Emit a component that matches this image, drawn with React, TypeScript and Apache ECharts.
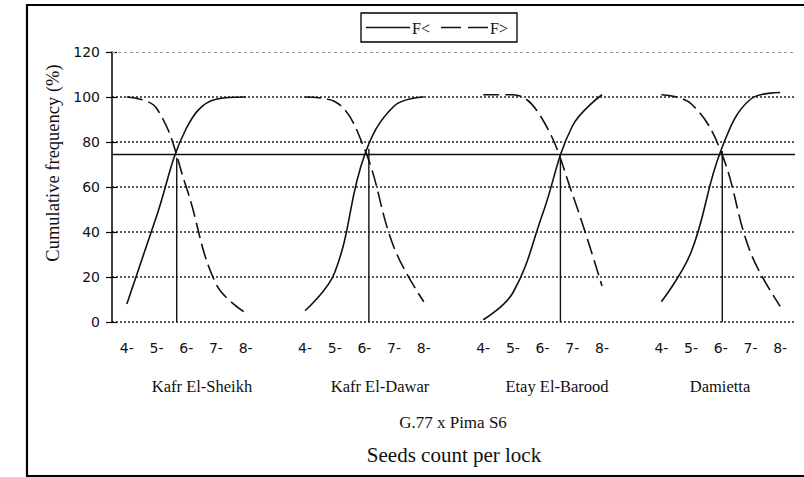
import React, { useEffect, useRef } from "react";
import * as echarts from "echarts";

const categories = [
  "4-", "5-", "6-", "7-", "8-", "",
  "4-", "5-", "6-", "7-", "8-", "",
  "4-", "5-", "6-", "7-", "8-", "",
  "4-", "5-", "6-", "7-", "8-",
];
const groupNames = ["Kafr El-Sheikh", "Kafr El-Dawar", "Etay El-Barood", "Damietta"];
const seriesNames = ["F<", "F>"];
const fLess = [8, 47, 86, 99, 100, null, 5, 22, 74, 96, 100, null, 1, 13, 48, 87, 101, null, 9, 31, 76, 99, 102];
const fGreater = [100, 95, 60, 17, 4, null, 100, 98, 77, 33, 9, null, 101, 101, 90, 57, 16, null, 101, 97, 76, 31, 7];
const crossX = [1.68, 8.15, 14.6, 20.05];
const crossY = [73, 77, 72, 76];
const refLine = 74.5;

const groupLabelX = [202, 380, 557, 720];

export default function App() {
  const ref = useRef<HTMLDivElement>(null);
  useEffect(() => {
    if (!ref.current) return;
    const chart = echarts.init(ref.current, null, { renderer: "svg" });
    const vData: any[] = [];
    crossX.forEach((x, i) => {
      vData.push([x, 0]);
      vData.push([x, crossY[i]]);
      vData.push(null);
    });
    const serif = "Liberation Serif";
    const sans = "DejaVu Sans";
    const dashPattern = [16, 6];
    chart.setOption({
      animation: false,
      backgroundColor: "#ffffff",
      grid: { left: 112, right: 9, top: 52, bottom: 155, containLabel: false },
      xAxis: [
        {
          type: "category",
          data: categories,
          boundaryGap: true,
          axisLine: { show: false },
          axisTick: { show: false },
          axisLabel: { interval: 0, fontFamily: sans, fontSize: 14, color: "#111", margin: 19 },
          splitLine: { show: false },
        },
        {
          type: "value",
          min: -0.5,
          max: 22.5,
          show: false,
        },
      ],
      yAxis: [
        {
          type: "value",
          min: 0,
          max: 120,
          interval: 20,
          axisLine: { show: true, onZero: false, lineStyle: { color: "#000", width: 1.5 } },
          axisTick: { show: true, length: 6, lineStyle: { color: "#000", width: 1.2 } },
          axisLabel: { fontFamily: sans, fontSize: 14, color: "#111", margin: 12 },
          splitLine: { show: true, showMaxLine: false, lineStyle: { color: "#222", type: [2, 2], width: 1.5 } },
        },
        {
          type: "value",
          position: "left",
          offset: 0,
          min: 0,
          max: 120,
          interval: 20,
          axisLine: { show: false, onZero: false },
          axisTick: { show: true, inside: true, length: 5, lineStyle: { color: "#000", width: 1.2 } },
          axisLabel: { show: false },
          splitLine: { show: false },
        },
      ],
      series: [
        {
          name: seriesNames[0],
          type: "line",
          data: fLess,
          smooth: 0.4,
          symbol: "none",
          connectNulls: false,
          lineStyle: { color: "#111", width: 1.6, type: "solid" },
          itemStyle: { color: "#111" },
          markLine: {
            silent: true,
            symbol: "none",
            label: { show: false },
            data: [
              { yAxis: refLine, lineStyle: { color: "#111", width: 1.4, type: "solid" } },
              { yAxis: 120, lineStyle: { color: "#999", width: 1, type: [3, 3] } },
            ],
          },
        },
        {
          name: seriesNames[1],
          type: "line",
          data: fGreater,
          smooth: 0.4,
          symbol: "none",
          connectNulls: false,
          lineStyle: { color: "#111", width: 1.6, type: dashPattern },
          itemStyle: { color: "#111" },
        },
        {
          name: "cross",
          type: "line",
          xAxisIndex: 1,
          data: vData,
          symbol: "none",
          connectNulls: false,
          lineStyle: { color: "#111", width: 1.4 },
        },
      ],
      graphic: [
        {
          type: "rect",
          shape: { x: 27, y: 5, width: 800, height: 471 },
          style: { fill: "none", stroke: "#000", lineWidth: 2.2 },
          silent: true,
        },
        {
          type: "rect",
          shape: { x: 361, y: 13, width: 156, height: 29 },
          style: { fill: "#fff", stroke: "#000", lineWidth: 1.3 },
          silent: true,
        },
        {
          type: "line",
          shape: { x1: 366, y1: 27.5, x2: 410, y2: 27.5 },
          style: { stroke: "#111", lineWidth: 1.4 },
        },
        {
          type: "text",
          x: 412,
          y: 28,
          style: { text: seriesNames[0], font: `16px "${serif}"`, fill: "#111", align: "left", verticalAlign: "middle" },
        },
        {
          type: "line",
          shape: { x1: 441, y1: 27.5, x2: 488, y2: 27.5 },
          style: { stroke: "#111", lineWidth: 1.4, lineDash: [20, 7] },
        },
        {
          type: "text",
          x: 490,
          y: 28,
          style: { text: seriesNames[1], font: `16px "${serif}"`, fill: "#111", align: "left", verticalAlign: "middle" },
        },
        {
          type: "text",
          x: 53,
          y: 163,
          rotation: Math.PI / 2,
          style: {
            text: "Cumulative frequency (%)",
            font: `18.5px "${serif}"`,
            fill: "#111",
            align: "center",
            verticalAlign: "middle",
          },
        },
        ...groupNames.map((g, i) => ({
          type: "text",
          x: groupLabelX[i],
          y: 386,
          style: {
            text: g,
            font: `16.5px "${serif}"`,
            fill: "#111",
            align: "center",
            verticalAlign: "middle",
          },
        })),
        {
          type: "text",
          x: 453,
          y: 422,
          style: {
            text: "G.77 x Pima S6",
            font: `17px "${serif}"`,
            fill: "#111",
            align: "center",
            verticalAlign: "middle",
          },
        },
        {
          type: "text",
          x: 454,
          y: 455,
          style: {
            text: "Seeds count per lock",
            font: `21px "${serif}"`,
            fill: "#111",
            align: "center",
            verticalAlign: "middle",
          },
        },
      ],
    });
    return () => chart.dispose();
  }, []);
  return (
    <div
      ref={ref}
      style={{ position: "fixed", left: 0, top: 0, width: 804, height: 477, background: "#fff" }}
    />
  );
}
